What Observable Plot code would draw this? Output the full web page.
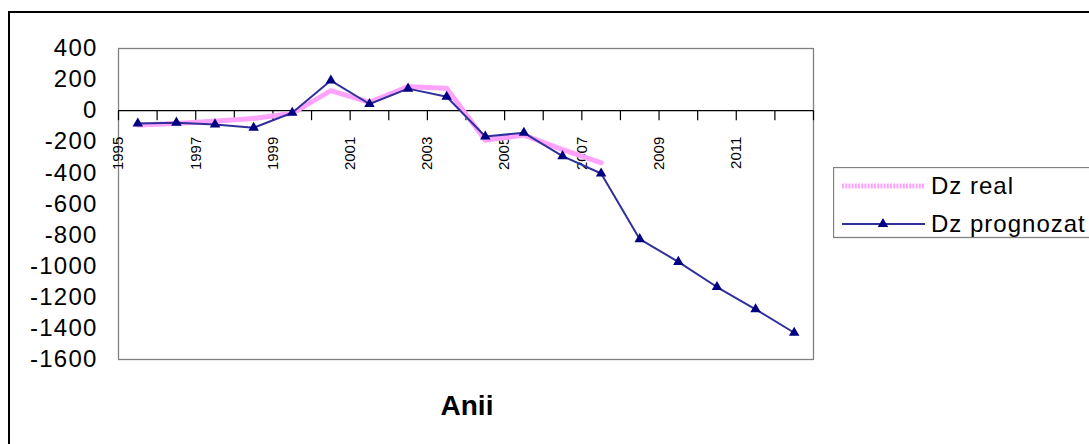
<!DOCTYPE html>
<html>
<head>
<meta charset="utf-8">
<script src="https://cdn.jsdelivr.net/npm/d3@7"></script>
<script src="https://cdn.jsdelivr.net/npm/@observablehq/plot@0.6"></script>
<style>
  body { margin: 0; background: #fff; font-family: "Liberation Sans", Arial, sans-serif; }
  #wrap { position: relative; width: 1089px; height: 444px; overflow: hidden; background: #fff; }
  #frame { position: absolute; left: 8px; top: 11px; width: 1200px; height: 600px; border-left: 2px solid #000; border-top: 2px solid #000; }
  #chart { position: absolute; left: 0; top: 0; }
  #title { position: absolute; left: 0; width: 934px; top: 392px; text-align: center; font-weight: bold; font-size: 28px; line-height: 28px; color: #000; }
  #legend { position: absolute; left: 833px; top: 167px; }
  g[aria-label="y-axis tick label"] text { letter-spacing: 1.2px; }
</style>
</head>
<body>
<div id="wrap">
  <div id="frame"></div>
  <div id="chart"></div>
  <div id="title">Anii</div>
  <div id="legend"></div>
</div>
<script>
// ---- data ----
const years = [1995, 1996, 1997, 1998, 1999, 2000, 2001, 2002, 2003, 2004, 2005, 2006, 2007, 2008, 2009, 2010, 2011, 2012];
const realValues = [-92, -82, -67, -50, -17, 129, 54, 155, 144, -190, -157, -250, -335];
const prognozatValues = [-82, -77, -88, -110, -13, 194, 43, 142, 90, -166, -142, -292, -404, -826, -972, -1134, -1277, -1428];
const yTicks = [400, 200, 0, -200, -400, -600, -800, -1000, -1200, -1400, -1600];
const xTickLabels = ["1995", "1997", "1999", "2001", "2003", "2005", "2007", "2009", "2011"];
const seriesNames = ["Dz real", "Dz prognozat"];

const realData = realValues.map((v, i) => ({year: years[i], v}));
const progData = prognozatValues.map((v, i) => ({year: years[i], v}));
const boundaries = years.map(y => y - 0.5).concat([years[years.length - 1] + 0.5]);

const pink = "#ffa3ff";
const navyLine = "#30309a";
const navy = "#000080";

const chart = Plot.plot({
  width: 1089,
  height: 380,
  marginLeft: 118,
  marginRight: 276,
  marginTop: 48,
  marginBottom: 21,
  style: {fontFamily: "'Liberation Sans', Arial, sans-serif", background: "transparent", color: "#000"},
  x: {type: "linear", domain: [years[0] - 0.5, years[years.length - 1] + 0.5], axis: null},
  y: {domain: [-1600, 400], axis: null},
  marks: [
    Plot.frame({stroke: "#808080", strokeWidth: 1.3}),
    Plot.ruleY([0], {stroke: "#000", strokeWidth: 1.2}),
    Plot.ruleX(boundaries, {x: d => d, y1: 0, y2: 0, insetBottom: -10, stroke: "#000", strokeWidth: 1.2}),
    Plot.text(xTickLabels, {x: d => +d - 0.5, y: 0, text: d => d, rotate: -90, textAnchor: "end", dy: 26, fontSize: 15, fill: "#000"}),
    Plot.axisY({ticks: yTicks, tickFormat: d => String(d), tickSize: 0, tickPadding: 21, fontSize: 24, color: "#000", label: null}),
    Plot.line(realData, {x: "year", y: "v", stroke: pink, strokeWidth: 5, strokeDasharray: "2 1.2"}),
    Plot.line(progData, {x: "year", y: "v", stroke: navyLine, strokeWidth: 2}),
    Plot.dot(progData, {x: "year", y: "v", symbol: "triangle", r: 3.9, fill: navy, stroke: "none"})
  ]
});
document.getElementById("chart").appendChild(chart);

// ---- legend ----
const legend = d3.select("#legend").append("svg")
  .attr("width", 260).attr("height", 72)
  .style("display", "block");
legend.append("rect").attr("x", 0.5).attr("y", 0.5).attr("width", 300).attr("height", 70)
  .attr("fill", "#fff").attr("stroke", "#808080").attr("stroke-width", 1.3);
legend.append("line").attr("x1", 9).attr("x2", 92).attr("y1", 19).attr("y2", 19)
  .attr("stroke", pink).attr("stroke-width", 5).attr("stroke-dasharray", "2 1.2");
legend.append("line").attr("x1", 9).attr("x2", 92).attr("y1", 57).attr("y2", 57)
  .attr("stroke", navyLine).attr("stroke-width", 2);
legend.append("path").attr("d", d3.symbol(d3.symbolTriangle, 3.9 * 3.9 * Math.PI)())
  .attr("transform", "translate(50,57)").attr("fill", navy);
legend.selectAll("text.lbl").data(seriesNames).join("text")
  .attr("class", "lbl")
  .attr("x", 98).attr("y", (d, i) => i === 0 ? 19 : 57)
  .attr("dy", "0.35em")
  .attr("font-size", 24).attr("letter-spacing", "1px")
  .attr("font-family", "'Liberation Sans', Arial, sans-serif")
  .attr("fill", "#000")
  .text(d => d);
</script>
</body>
</html>
